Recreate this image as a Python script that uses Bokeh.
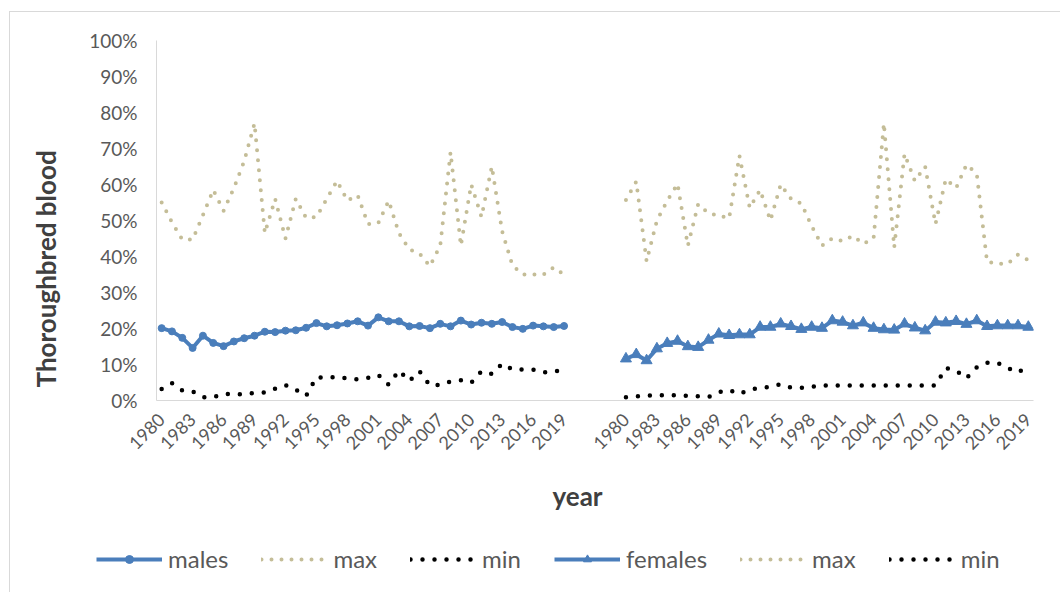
import math
from bokeh.plotting import figure
from bokeh.layouts import column, row
from bokeh.models import (Range1d, FixedTicker, PrintfTickFormatter, Legend, LegendItem)
from bokeh.core.properties import value
from bokeh.embed import file_html
from bokeh.resources import INLINE

years = list(range(1980, 2020))

males = [20.1, 19.2, 17.4, 14.6, 18.0, 16.0, 15.1, 16.4, 17.3, 18.0,
         19.1, 19.0, 19.4, 19.5, 20.2, 21.5, 20.6, 20.9, 21.4, 22.0,
         20.8, 23.1, 22.0, 22.0, 20.6, 20.7, 20.1, 21.3, 20.6, 22.2,
         21.1, 21.6, 21.3, 21.8, 20.4, 19.9, 20.8, 20.6, 20.4, 20.7]
males_max = [55.0, 49.5, 44.7, 44.7, 51.5, 58.5, 52.7, 59.0, 66.5, 77.0,
             46.5, 56.0, 45.0, 56.0, 50.7, 51.0, 56.0, 61.0, 55.5, 57.0,
             49.0, 49.3, 55.5, 46.5, 42.0, 40.8, 37.3, 43.0, 69.0, 43.0,
             60.0, 51.0, 65.0, 47.0, 37.5, 35.0, 35.0, 35.0, 37.0, 35.0]
males_min = [3.2, 4.8, 2.8, 2.5, 0.9, 0.9, 1.8, 1.85, 1.7, 2.1,
             2.2, 3.3, 4.3, 3.0, 1.3, 6.5, 6.3, 6.6, 6.1, 5.9,
             6.3, 7.1, 4.4, 8.3, 5.4, 8.1, 4.2, 4.3, 5.3, 5.6,
             4.9, 8.1, 7.4, 10.2, 8.6, 8.6, 8.6, 7.8, 8.0, 8.7]

females = [11.6, 12.8, 11.1, 14.4, 15.9, 16.5, 15.0, 14.8, 16.8, 18.5,
           18.1, 18.3, 18.3, 20.4, 20.4, 21.3, 20.6, 19.8, 20.4, 20.1,
           22.2, 21.8, 20.8, 21.6, 20.1, 19.7, 19.6, 21.3, 20.2, 19.4,
           21.8, 21.6, 22.0, 21.2, 22.2, 20.6, 20.8, 20.8, 20.8, 20.4]
females_max = [55.7, 60.8, 38.7, 50.0, 55.5, 60.2, 43.0, 54.5, 52.0, 51.4,
               50.6, 68.0, 53.5, 58.5, 50.0, 60.0, 56.0, 54.7, 48.5, 43.0,
               45.0, 44.3, 45.7, 43.5, 45.0, 77.0, 42.5, 68.5, 61.0, 65.0,
               49.0, 61.5, 59.0, 65.5, 63.0, 38.5, 38.0, 38.0, 40.5, 39.0]
females_min = [0.9, 1.1, 1.4, 1.3, 1.6, 1.4, 1.3, 1.2, 1.0, 2.3,
               2.9, 1.8, 3.0, 3.5, 3.8, 4.5, 3.6, 3.5, 3.8, 4.2,
               4.2, 4.2, 4.2, 4.2, 4.2, 4.2, 4.2, 4.2, 4.2, 4.2,
               4.2, 9.0, 8.3, 6.2, 9.2, 10.5, 10.5, 9.0, 7.8, 9.6]

y_ticks = [0, 10, 20, 30, 40, 50, 60, 70, 80, 90, 100]
label_every = 3
gap = 5
y_title = "Thoroughbred blood"
x_title = "year"

n = len(years)
x_m = list(range(n))
x_f = [n + gap + i for i in range(n)]

BLUE = "#4A7EBB"
TAN = "#C4BD97"
TXT = "#595959"
TITLE = "#404040"
FONT = "Lato"

# ---------------- main chart ----------------
p = figure(width=990, height=454, output_backend="svg", toolbar_location=None,
           x_range=Range1d(-0.5, x_f[-1] + 0.5), y_range=Range1d(0, 100),
           min_border_left=86, min_border_right=27, min_border_top=28,
           min_border_bottom=66)
p.outline_line_color = None
p.xgrid.visible = False
p.ygrid.visible = False

MAX_STYLE = dict(line_color=TAN, line_width=4, line_dash="0 10", line_cap="round")
MIN_STYLE = dict(line_color="black", line_width=4.5, line_dash="0 12", line_cap="round")
AVG_STYLE = dict(line_color=BLUE, line_width=4)

p.line(x_m, males_max, **MAX_STYLE)
p.line(x_m, males_min, **MIN_STYLE)
p.line(x_m, males, **AVG_STYLE)
p.scatter(x_m, males, marker="circle", size=7, fill_color=BLUE, line_color=BLUE)

p.line(x_f, females_max, **MAX_STYLE)
p.line(x_f, females_min, **MIN_STYLE)
p.line(x_f, females, **AVG_STYLE)
p.scatter(x_f, females, marker="triangle", size=11, fill_color=BLUE, line_color=BLUE)

tick_pos = [x_m[i] for i in range(0, n, label_every)] + [x_f[i] for i in range(0, n, label_every)]
overrides = {}
for i in range(0, n, label_every):
    overrides[x_m[i]] = str(years[i])
    overrides[x_f[i]] = str(years[i])
p.xaxis.ticker = FixedTicker(ticks=tick_pos)
p.xaxis.major_label_overrides = overrides
p.xaxis.major_label_orientation = math.pi / 4
p.xaxis.minor_tick_line_color = None
p.xaxis.major_tick_line_color = None
p.xaxis.axis_line_color = "#D9D9D9"
p.xaxis.major_label_text_font = FONT
p.xaxis.major_label_text_font_size = "18px"
p.xaxis.major_label_text_color = TXT
p.xaxis.major_label_standoff = 10

p.yaxis.ticker = FixedTicker(ticks=y_ticks)
p.yaxis.formatter = PrintfTickFormatter(format="%d%%")
p.yaxis.minor_tick_line_color = None
p.yaxis.major_tick_line_color = None
p.yaxis.axis_line_color = "#D9D9D9"
p.yaxis.major_label_text_font = FONT
p.yaxis.major_label_text_font_size = "19px"
p.yaxis.major_label_text_color = TXT
p.yaxis.major_label_standoff = 13

# ---------------- y-axis title strip ----------------
yfig = figure(width=60, height=454, output_backend="svg", toolbar_location=None,
              x_range=Range1d(0, 60), y_range=Range1d(0, 454),
              x_axis_type=None, y_axis_type=None, min_border=0)
yfig.outline_line_color = None
yfig.grid.visible = False
yfig.text(x=[35], y=[166], text=[y_title], angle=math.pi / 2,
          text_align="center", text_baseline="middle",
          text_font=value(FONT), text_font_style="bold", text_font_size="26px",
          text_color=TITLE)

# ---------------- x title + legend strip ----------------
nan = float("nan")
lfig = figure(width=1050, height=126, output_backend="svg", toolbar_location=None,
              x_range=Range1d(0, 1050), y_range=Range1d(0, 126),
              x_axis_type=None, y_axis_type=None, min_border=0)
lfig.outline_line_color = None
lfig.grid.visible = False
lfig.text(x=[567], y=[97], text=[x_title], text_align="center", text_baseline="middle",
          text_font=value(FONT), text_font_style="bold", text_font_size="26px",
          text_color=TITLE)

# legend-only stand-ins (no visible data)
l_m = lfig.line([nan], [nan], **AVG_STYLE)
l_mp = lfig.scatter([nan], [nan], marker="circle", size=7, fill_color=BLUE, line_color=BLUE)
l_max = lfig.line([nan], [nan], **MAX_STYLE)
l_min = lfig.line([nan], [nan], **MIN_STYLE)
l_f = lfig.line([nan], [nan], **AVG_STYLE)
l_fp = lfig.scatter([nan], [nan], marker="triangle", size=11, fill_color=BLUE, line_color=BLUE)

legend = Legend(items=[
    LegendItem(label="males", renderers=[l_m, l_mp]),
    LegendItem(label="max", renderers=[l_max]),
    LegendItem(label="min", renderers=[l_min]),
    LegendItem(label="females", renderers=[l_f, l_fp]),
    LegendItem(label="max", renderers=[l_max]),
    LegendItem(label="min", renderers=[l_min]),
], orientation="horizontal", location=(86, 19))
legend.padding = 0
legend.margin = 0
legend.spacing = 33
legend.glyph_width = 66
legend.glyph_height = 20
legend.label_standoff = 6
legend.border_line_color = None
legend.background_fill_alpha = 0
legend.label_text_font = FONT
legend.label_text_font_size = "24px"
legend.label_text_color = TXT
lfig.add_layout(legend)

layout = column(row(yfig, p), lfig)
layout.styles = {"margin-left": "9px", "margin-top": "11px",
                 "border-left": "1px solid #D9D9D9", "border-top": "1px solid #D9D9D9"}

open("out.html", "w").write(file_html(layout, INLINE))
